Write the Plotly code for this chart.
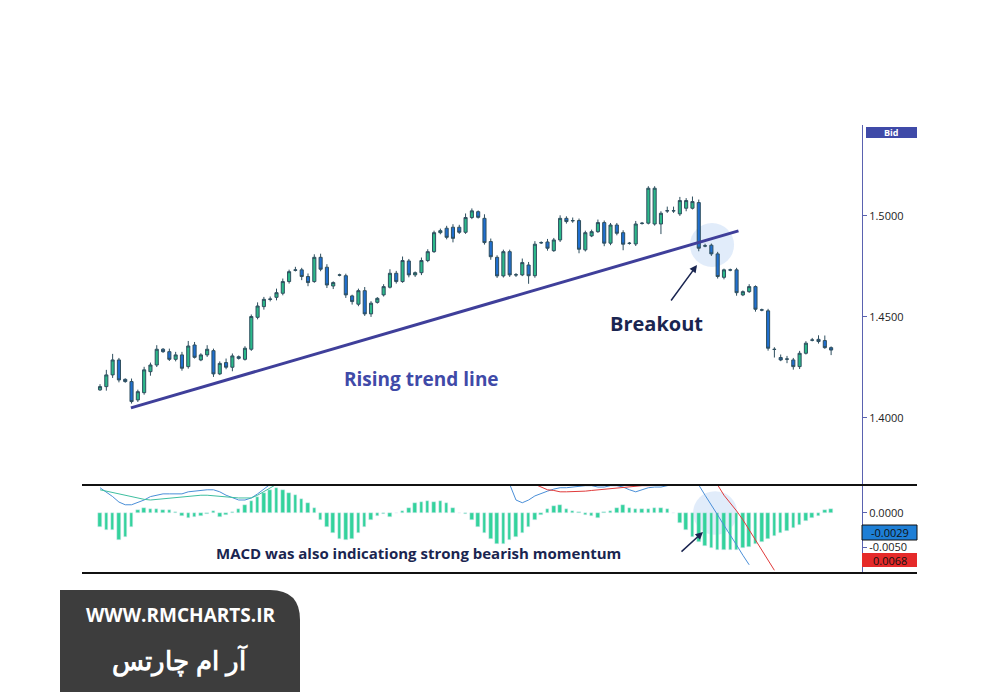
import plotly.graph_objects as go

opens = [1.4139,1.4155,1.4213,1.4287,1.4191,1.4180,1.4089,1.4125,1.4229,1.4262,1.4340,1.4328,1.4290,1.4312,1.4254,1.4361,1.4287,1.4312,1.4333,1.4218,
1.4274,1.4251,1.4303,1.4290,1.4340,1.4498,1.4551,1.4589,1.4597,1.4617,1.4675,1.4733,1.4733,1.4700,1.4675,1.4795,1.4746,1.4653,1.4708,1.4704,
1.4604,1.4563,1.4630,1.4515,1.4572,1.4609,1.4647,1.4716,1.4675,1.4777,1.4708,1.4719,1.4779,1.4823,1.4917,1.4939,1.4944,1.4944,1.4919,1.4992,
1.5021,1.4988,1.4873,1.4795,1.4703,1.4823,1.4709,1.4708,1.4757,1.4704,1.4868,1.4871,1.4828,1.4881,1.4988,1.4977,1.4977,1.4832,1.4901,1.4922,
1.4967,1.4865,1.4955,1.4917,1.4865,1.4861,1.4964,1.4964,1.4960,1.4960,1.5026,1.5026,1.5010,1.5038,1.5038,1.5066,1.4852,1.4855,1.4812,1.4696,
1.4733,1.4733,1.4609,1.4625,1.4650,1.4535,1.4530,1.4340,1.4299,1.4292,1.4287,1.4254,1.4320,1.4386,1.4389,1.4383,1.4348]
closes = [1.4155,1.4213,1.4287,1.4188,1.4180,1.4081,1.4130,1.4238,1.4262,1.4340,1.4328,1.4290,1.4312,1.4246,1.4356,1.4300,1.4312,1.4340,1.4218,1.4270,
1.4251,1.4307,1.4295,1.4345,1.4502,1.4554,1.4587,1.4587,1.4620,1.4675,1.4724,1.4731,1.4700,1.4670,1.4795,1.4736,1.4658,1.4670,1.4707,1.4609,
1.4576,1.4630,1.4515,1.4568,1.4592,1.4650,1.4716,1.4675,1.4779,1.4708,1.4719,1.4779,1.4823,1.4917,1.4927,1.4894,1.4889,1.4919,1.4992,1.5025,
1.4993,1.4868,1.4798,1.4703,1.4823,1.4708,1.4708,1.4769,1.4704,1.4860,1.4867,1.4840,1.4881,1.4988,1.4972,1.4976,1.4835,1.4917,1.4922,1.4967,
1.4865,1.4955,1.4914,1.4860,1.4864,1.4960,1.4963,1.5137,1.5137,1.5013,1.5025,1.5025,1.5076,1.5076,1.5071,1.4840,1.4851,1.4812,1.4700,1.4733,
1.4732,1.4620,1.4625,1.4650,1.4538,1.4534,1.4345,1.4339,1.4287,1.4291,1.4254,1.4320,1.4370,1.4385,1.4378,1.4348,1.4336]
wick_up = [0.0012,0.0025,0.0030,0.0010,0.0005,0.0015,0.0010,0.0015,0.0012,0.0020,0.0006,0.0015,0.0015,0.0015,0.0025,0.0015,0.0008,0.0020,0.0010,0.0010,
0.0020,0.0012,0.0006,0.0010,0.0010,0.0018,0.0012,0.0012,0.0020,0.0015,0.0010,0.0015,0.0010,0.0015,0.0015,0.0018,0.0015,0.0006,0.0006,0.0010,
0.0006,0.0010,0.0018,0.0010,0.0006,0.0012,0.0020,0.0012,0.0020,0.0010,0.0006,0.0015,0.0012,0.0010,0.0010,0.0012,0.0015,0.0012,0.0020,0.0012,
0.0006,0.0020,0.0015,0.0010,0.0010,0.0010,0.0008,0.0020,0.0015,0.0015,0.0006,0.0015,0.0010,0.0015,0.0010,0.0015,0.0010,0.0010,0.0010,0.0015,
0.0010,0.0010,0.0010,0.0012,0.0006,0.0015,0.0006,0.0010,0.0010,0.0010,0.0020,0.0020,0.0018,0.0012,0.0025,0.0015,0.0010,0.0008,0.0010,0.0006,
0.0006,0.0010,0.0006,0.0012,0.0006,0.0006,0.0010,0.0010,0.0015,0.0015,0.0010,0.0012,0.0010,0.0010,0.0020,0.0025,0.0006]
wick_dn = [0.0005,0.0020,0.0015,0.0012,0.0006,0.0010,0.0010,0.0010,0.0020,0.0010,0.0006,0.0008,0.0010,0.0012,0.0010,0.0006,0.0006,0.0010,0.0015,0.0006,
0.0010,0.0020,0.0006,0.0006,0.0008,0.0010,0.0015,0.0010,0.0015,0.0010,0.0010,0.0006,0.0018,0.0018,0.0006,0.0010,0.0015,0.0015,0.0006,0.0015,
0.0015,0.0010,0.0010,0.0015,0.0006,0.0008,0.0006,0.0010,0.0006,0.0012,0.0010,0.0012,0.0008,0.0006,0.0008,0.0010,0.0020,0.0008,0.0008,0.0008,
0.0006,0.0010,0.0015,0.0010,0.0008,0.0010,0.0010,0.0006,0.0040,0.0010,0.0006,0.0012,0.0006,0.0010,0.0010,0.0010,0.0020,0.0008,0.0006,0.0006,
0.0015,0.0010,0.0010,0.0030,0.0006,0.0010,0.0006,0.0006,0.0008,0.0050,0.0010,0.0010,0.0010,0.0015,0.0006,0.0015,0.0006,0.0010,0.0010,0.0010,
0.0006,0.0015,0.0006,0.0006,0.0012,0.0006,0.0012,0.0040,0.0006,0.0020,0.0015,0.0012,0.0006,0.0006,0.0010,0.0006,0.0025]

hist = [-0.0020,-0.0025,-0.0025,-0.0040,-0.0035,-0.0020,0.0005,0.0008,0.0006,0.0006,0.0004,0.0004,0.0002,-0.0005,-0.0008,-0.0006,-0.0004,-0.0002,0.0003,-0.0006,
-0.0003,0.0002,0.0006,0.0012,0.0018,0.0024,0.0030,0.0034,0.0036,0.0034,0.0030,0.0026,0.0020,0.0014,0.0008,-0.0010,-0.0020,-0.0030,-0.0038,-0.0040,
-0.0038,-0.0030,-0.0020,-0.0010,-0.0004,-0.0002,-0.0006,0.0000,0.0003,0.0008,0.0014,0.0016,0.0018,0.0016,0.0018,0.0014,0.0008,0.0000,-0.0002,-0.0010,
-0.0020,-0.0030,-0.0038,-0.0045,-0.0045,-0.0040,-0.0035,-0.0030,-0.0020,-0.0010,-0.0003,0.0006,0.0010,0.0012,0.0006,0.0003,0.0002,-0.0003,-0.0005,-0.0008,
0.0002,0.0003,0.0008,0.0012,0.0008,0.0006,0.0006,0.0006,0.0008,0.0008,0.0006,0.0000,-0.0015,-0.0025,-0.0035,-0.0042,-0.0048,-0.0052,-0.0055,-0.0055,
-0.0055,-0.0054,-0.0052,-0.0050,-0.0046,-0.0042,-0.0038,-0.0034,-0.0030,-0.0026,-0.0022,-0.0018,-0.0012,-0.0008,-0.0004,0.0004,0.0006]

N = len(opens)
idx = list(range(1, N + 1))
highs = [max(o, c) + w for o, c, w in zip(opens, closes, wick_up)]
lows = [min(o, c) - w for o, c, w in zip(opens, closes, wick_dn)]

macd_left = [0.0037,0.0031,0.0024,0.0016,0.0012,0.0012,0.0015,0.0019,0.0024,0.0026,0.0028,0.0028,0.0028,0.0028,0.0031,0.0032,0.0034,0.0034,0.0034,0.0031,
0.0026,0.0022,0.0019,0.0019,0.0022,0.0028,0.0035,0.0042]
signal_left = [0.0034,0.0032,0.0030,0.0027,0.0025,0.0023,0.0021,0.0020,0.0019,0.0020,0.0021,0.0022,0.0023,0.0024,0.0025,0.0026,0.0026,0.0026,0.0025,0.0024,
0.0023,0.0022,0.0022,0.0022,0.0022,0.0026,0.0031,0.0036,0.0042]
macd_right = [0.0042,0.0019,0.0015,0.0019,0.0025,0.0029,0.0032,0.0035,0.0037,0.0037,0.0038,0.0040,0.0040,0.0040,0.0038,0.0038,0.0040,0.0040,0.0038,0.0034,
0.0031,0.0034,0.0037,0.0038,0.0038,0.0040,0.0042,0.0042,0.0042,0.0042,0.0041,0.0026,0.0012,-0.0003,-0.0018,-0.0032,-0.0047,-0.0062,-0.0076]
signal_right = [0.0042,0.0038,0.0034,0.0033,0.0031,0.0031,0.0031,0.0032,0.0032,0.0033,0.0034,0.0035,0.0036,0.0037,0.0038,0.0039,0.0040,0.0040,0.0040,0.0040,
0.0041,0.0041,0.0042,0.0042,0.0042,0.0042,0.0042,0.0042,0.0042,0.0041,0.0026,0.0015,0.0003,-0.0010,-0.0025,-0.0040,-0.0054,-0.0069,-0.0084]

trend_x = [5.9, 102.3]
trend_y = [1.4050, 1.4926]

W, H = 984, 684
OFF = 8  # page margin of the browser
SL, SR, ST, SB = 82, 862, 125, 573  # plot area in screen pixels
L, R, T, B = SL - OFF, SR - OFF, ST - OFF, SB - OFF
def px(x): return (x - SL) / (SR - SL)
def py(y): return (SB - y) / (SB - ST)

fig = go.Figure()
fig.add_trace(go.Candlestick(x=idx, open=opens, high=highs, low=lows, close=closes,
    increasing=dict(line=dict(color="#2f4f5f", width=1), fillcolor="#2bb98a"),
    decreasing=dict(line=dict(color="#2f4f5f", width=1), fillcolor="#1f6fd0"),
    whiskerwidth=0, xaxis="x", yaxis="y", showlegend=False))
fig.add_trace(go.Scatter(x=trend_x, y=trend_y, mode="lines", line=dict(color="#3f3f9a", width=3),
    xaxis="x", yaxis="y", showlegend=False))
fig.add_trace(go.Bar(x=idx, y=hist, marker_color="#33d39c", width=0.55, xaxis="x2", yaxis="y2", showlegend=False))
fig.add_trace(go.Scatter(x=idx[:len(macd_left)], y=macd_left, mode="lines", line=dict(color="#4a8fd8", width=1),
    xaxis="x2", yaxis="y2", showlegend=False))
fig.add_trace(go.Scatter(x=idx[:len(signal_left)], y=signal_left, mode="lines", line=dict(color="#3fbfa0", width=1),
    xaxis="x2", yaxis="y2", showlegend=False))
fig.add_trace(go.Scatter(x=idx[65:65 + len(macd_right)], y=macd_right, mode="lines", line=dict(color="#4a8fd8", width=1),
    xaxis="x2", yaxis="y2", showlegend=False))
fig.add_trace(go.Scatter(x=idx[69:69 + len(signal_right)], y=signal_right, mode="lines", line=dict(color="#e03a3a", width=1),
    xaxis="x2", yaxis="y2", showlegend=False))

xr = [-1.86, 121.9]
split = 88 / 448
fig.update_layout(
    width=W, height=H, margin=dict(l=L, r=W - R, t=T, b=H - B),
    paper_bgcolor="white", plot_bgcolor="white", bargap=0,
    font=dict(family="Open Sans", color="#1a2550"),
    xaxis=dict(domain=[0, 1], range=xr, visible=False, rangeslider=dict(visible=False), anchor="y"),
    yaxis=dict(domain=[split, 1], range=[1.3668, 1.5450], side="right", showgrid=False, zeroline=False,
               tickvals=[1.40, 1.45, 1.50], ticktext=["1.4000", "1.4500", "1.5000"],
               ticks="outside", ticklen=4, tickcolor="#5a62b0", showline=True, linecolor="#5a62b0",
               tickfont=dict(size=11, color="#222"), anchor="x"),
    xaxis2=dict(domain=[0, 1], range=xr, visible=False, anchor="y2"),
    yaxis2=dict(domain=[0, split], range=[-0.0088, 0.0041], side="right", showgrid=False, zeroline=False,
                tickvals=[0.0, -0.0050], ticktext=["0.0000", "-0.0050"], ticks="outside", ticklen=4,
                tickcolor="#5a62b0", showline=True, linecolor="#5a62b0",
                tickfont=dict(size=11, color="#222"), anchor="x2"),
)

shapes = [
    dict(type="circle", xref="x", yref="y", x0=94.6, x1=101.6, y0=1.4747, y1=1.4965,
         fillcolor="rgba(170,200,240,0.35)", line=dict(width=0), layer="below"),
    dict(type="circle", xref="x2", yref="y2", x0=95.1, x1=102.1, y0=-0.0032, y1=0.0032,
         fillcolor="rgba(170,200,240,0.35)", line=dict(width=0), layer="below"),
    dict(type="line", xref="paper", yref="paper", x0=px(82), x1=px(917), y0=py(485), y1=py(485), line=dict(color="#111", width=2)),
    dict(type="line", xref="paper", yref="paper", x0=px(82), x1=px(917), y0=py(573), y1=py(573), line=dict(color="#111", width=2)),
    dict(type="rect", xref="paper", yref="paper", x0=px(866), x1=px(917), y0=py(138), y1=py(127), fillcolor="#3f4aa8", line=dict(width=0)),
    dict(type="rect", xref="paper", yref="paper", x0=px(862), x1=px(917), y0=py(540), y1=py(525), fillcolor="#1e7fd6", line=dict(color="#111", width=1)),
    dict(type="rect", xref="paper", yref="paper", x0=px(862), x1=px(917), y0=py(567), y1=py(553), fillcolor="#e52a2a", line=dict(width=0)),
    dict(type="path", xref="paper", yref="paper",
         path=f"M {px(60)},{py(692)} L {px(60)},{py(590)} L {px(270)},{py(590)} Q {px(300)},{py(590)} {px(300)},{py(620)} L {px(300)},{py(692)} Z",
         fillcolor="#3d3d3d", line=dict(width=0)),
]
fig.update_layout(shapes=shapes)

ann = [
    dict(x=px(891), y=py(132), text="<b>Bid</b>", font=dict(size=9, color="white")),
    dict(x=px(890), y=py(532.5), text="-0.0029", font=dict(size=11, color="#111")),
    dict(x=px(890), y=py(560), text="0.0068", font=dict(size=11, color="#111")),
    dict(x=px(656), y=py(323), text="<b>Breakout</b>", font=dict(size=20, color="#1a2550")),
    dict(x=px(421), y=py(379), text="<b>Rising trend line</b>", font=dict(size=19, color="#3f4aa8")),
    dict(x=px(418), y=py(553), text="<b>MACD was also indicationg strong bearish momentum</b>", font=dict(size=15, color="#1a2550")),
    dict(x=px(180), y=py(615), text="<b>WWW.RMCHARTS.IR</b>", font=dict(size=19, color="white")),
    dict(x=px(180), y=py(660), text="<b>آر ام چارتس</b>", font=dict(size=26, color="white")),
]
for a in ann:
    a.update(xref="paper", yref="paper", showarrow=False, xanchor="center", yanchor="middle")
ann += [
    dict(xref="paper", yref="paper", x=px(697), y=py(265), ax=-27, ay=37,
         showarrow=True, arrowhead=2, arrowwidth=1.5, arrowcolor="#1a2550", text=""),
    dict(xref="paper", yref="paper", x=px(703), y=py(532), ax=-23, ay=21,
         showarrow=True, arrowhead=2, arrowwidth=1.5, arrowcolor="#1a2550", text=""),
]
fig.update_layout(annotations=ann)
fig.write_html("out.html")
